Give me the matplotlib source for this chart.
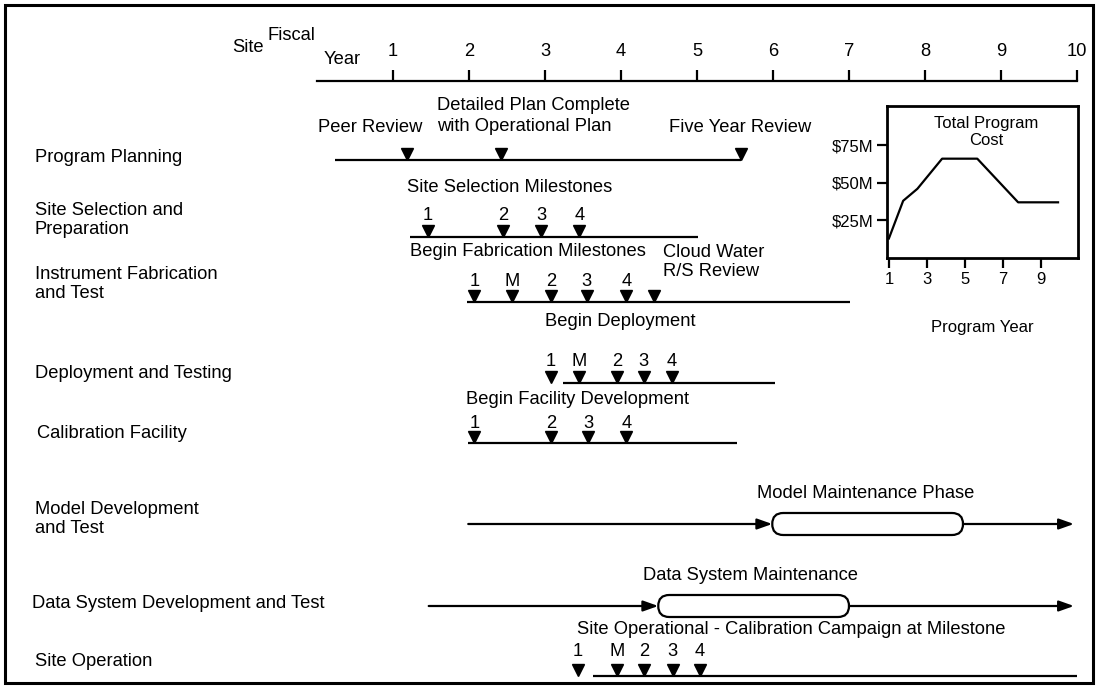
import matplotlib
matplotlib.use("Agg")
import matplotlib.pyplot as plt
from matplotlib.patches import FancyBboxPatch, Rectangle
from matplotlib.transforms import blended_transform_factory

plt.rcParams['font.family'] = ['Liberation Sans', 'DejaVu Sans']
plt.rcParams['font.size'] = 13.2

# fiscal years on the top scale
fiscal_years = list(range(1, 11))

# row names
rows = ['Program Planning', 'Site Selection and\nPreparation', 'Instrument Fabrication\nand Test',
        'Deployment and Testing', 'Calibration Facility', 'Model Development\nand Test',
        'Data System Development and Test', 'Site Operation']

# bar spans (start year, end year)
planning_span = (0.24, 5.58)
site_sel_span = (1.22, 5.01)
fab_span = (1.97, 7.01)
deploy_span = (3.24, 6.03)
calib_span = (1.99, 5.53)
model_span = (1.99, 9.96)
data_span = (1.47, 9.96)
siteop_span = (3.63, 10.0)

# maintenance phases (start, end)
model_phase = (5.99, 8.50)
data_phase = (4.49, 7.00)

# milestones
planning_ms = [1.18, 2.42, 5.58]
site_sel_ms = [1.46, 2.45, 2.95, 3.45]
site_sel_lab = ['1', '2', '3', '4']
fab_ms = [2.07, 2.57, 3.08, 3.55, 4.07, 4.43]
fab_lab = ['1', 'M', '2', '3', '4', '']
deploy_ms = [3.08, 3.45, 3.95, 4.30, 4.67]
deploy_lab = ['1', 'M', '2', '3', '4']
calib_ms = [2.07, 3.08, 3.57, 4.07]
calib_lab = ['1', '2', '3', '4']
siteop_ms = [3.43, 3.95, 4.30, 4.68, 5.04]
siteop_lab = ['1', 'M', '2', '3', '4']

# inset: total program cost
prog_year = [1, 1.75, 2.5, 3.8, 5.65, 7.8, 9.9]
cost_m = [13, 38, 46, 66, 66, 37, 37]

W, H = 1099, 688
fig = plt.figure(figsize=(W / 100, H / 100), dpi=100)
ax = fig.add_axes([0, 0, 1, 1])
ax.set_xlim((0 - 393) / 76 + 1, (W - 393) / 76 + 1)
ax.set_ylim(H, 0)
ax.axis('off')

LW = 1.6
MS = 9

# frame
fig.patches.append(Rectangle((5 / W, 5 / H), (1093 - 5) / W, (683 - 5) / H,
                             transform=fig.transFigure, fill=False, lw=2.2, ec='black'))

# top scale
ax.plot([0.0, 10.0], [81, 81], color='black', lw=LW)
ax.vlines(fiscal_years, 70, 81, color='black', lw=LW)
for yr in fiscal_years:
    ax.text(yr, 52, str(yr), ha='center', va='center')
ax.text(-0.70, 48, 'Site', ha='right', va='center')
ax.text(-0.02, 35, 'Fiscal', ha='right', va='center')
ax.text(0.33, 60, 'Year', ha='center', va='center')

# row labels
row_y = [158, 220, 284, 373, 433, 519, 603, 661]
row_x = [35, 35, 35, 35, 37, 35, 32, 35]
lab_tr = blended_transform_factory(ax.transAxes, ax.transData)
for name, y, x in zip(rows, row_y, row_x):
    ax.text(x / W, y, name, ha='left', va='center', linespacing=1.1, transform=lab_tr)


def bar(span, y):
    ax.plot(span, [y, y], color='black', lw=LW, solid_capstyle='butt')


def milestones(xs, labels, y, lab_y):
    ax.plot(xs, [y - 6] * len(xs), 'v', color='black', ms=MS, mec='black')
    if labels is not None:
        for x, t in zip(xs, labels):
            ax.text(x, lab_y, t, ha='center', va='center')


def arrow(x0, x1, y):
    ax.annotate('', xy=(x1, y), xytext=(x0, y),
                arrowprops=dict(arrowstyle='-|>,head_length=0.9,head_width=0.32',
                                mutation_scale=10, lw=LW, color='black',
                                shrinkA=0, shrinkB=0))


def capsule(x0, x1, y):
    r = 11 / 76
    ax.add_patch(FancyBboxPatch((x0, y - 11), x1 - x0, 22,
                                boxstyle='round,pad=0,rounding_size=%f' % r,
                                mutation_aspect=76, fc='white', ec='black', lw=LW, zorder=3))


# program planning
bar(planning_span, 160)
milestones(planning_ms, None, 160, 0)
ax.text(0.70, 127, 'Peer Review', ha='center', va='center')
ax.text(1.58, 116, 'Detailed Plan Complete\nwith Operational Plan', ha='left', va='center',
        linespacing=1.25)
ax.text(4.63, 127, 'Five Year Review', ha='left', va='center')

# site selection
ax.text(2.53, 187, 'Site Selection Milestones', ha='center', va='center')
bar(site_sel_span, 237)
milestones(site_sel_ms, site_sel_lab, 237, 216)

# instrument fabrication
ax.text(2.78, 251, 'Begin Fabrication Milestones', ha='center', va='center')
ax.text(4.55, 262, 'Cloud Water\nR/S Review', ha='left', va='center', linespacing=1.15)
bar(fab_span, 302)
milestones(fab_ms, fab_lab, 302, 281)

# deployment
ax.text(3.99, 321, 'Begin Deployment', ha='center', va='center')
bar(deploy_span, 383)
milestones(deploy_ms, deploy_lab, 383, 362)

# calibration facility
ax.text(3.43, 399, 'Begin Facility Development', ha='center', va='center')
bar(calib_span, 443)
milestones(calib_ms, calib_lab, 443, 423)

# model development
ax.text(7.22, 493, 'Model Maintenance Phase', ha='center', va='center')
arrow(model_span[0], model_phase[0], 524)
capsule(model_phase[0], model_phase[1], 524)
arrow(model_phase[1], model_span[1], 524)

# data system
ax.text(5.71, 576, 'Data System Maintenance', ha='center', va='center')
arrow(data_span[0], data_phase[0], 606)
capsule(data_phase[0], data_phase[1], 606)
arrow(data_phase[1], data_span[1], 606)

# site operation
ax.text(6.24, 629, 'Site Operational - Calibration Campaign at Milestone', ha='center', va='center')
bar(siteop_span, 676)
milestones(siteop_ms, siteop_lab, 676, 651)

# inset cost chart
ins = fig.add_axes([887 / W, (H - 258) / H, 191 / W, 152 / H])
ins.plot(prog_year, cost_m, color='black', lw=LW)
ins.set_xlim(0.9, 10.95)
ins.set_ylim(0, 101)
ins.set_xticks([1, 3, 5, 7, 9])
ins.set_yticks([25, 50, 75])
ins.set_yticklabels(['$25M', '$50M', '$75M'])
ins.tick_params(direction='out', length=7, width=LW, labelsize=12, pad=3)
for s in ins.spines.values():
    s.set_linewidth(2)
ins.text(0.52, 0.83, 'Total Program\nCost', transform=ins.transAxes, ha='center', va='center',
         linespacing=1.2, fontsize=12)
ins.set_xlabel('Program Year', labelpad=24, fontsize=12)

fig.savefig('out.png', dpi=100)
